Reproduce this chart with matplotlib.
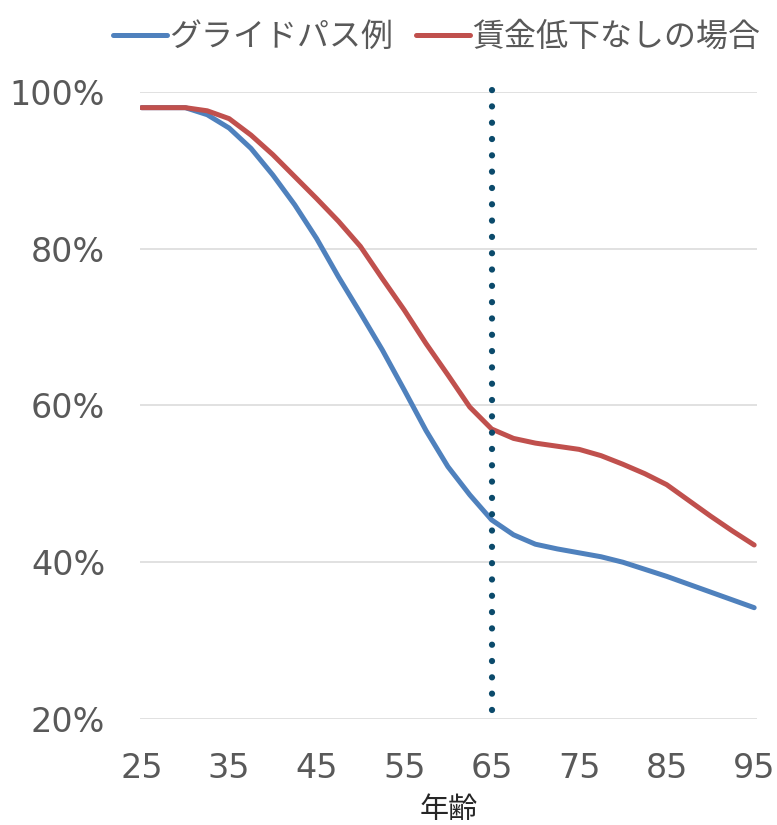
import matplotlib
matplotlib.use("Agg")
import matplotlib.pyplot as plt

ages = [25, 27.5, 30, 32.5, 35, 37.5, 40, 42.5, 45, 47.5, 50, 52.5, 55, 57.5, 60, 62.5,
        65, 67.5, 70, 72.5, 75, 77.5, 80, 82.5, 85, 87.5, 90, 92.5, 95]
glide_path = [98.0, 98.0, 98.0, 97.1, 95.4, 92.8, 89.4, 85.6, 81.3, 76.4, 71.8, 67.1, 62.0, 56.8, 52.2, 48.6,
              45.4, 43.5, 42.3, 41.7, 41.2, 40.7, 40.0, 39.1, 38.2, 37.2, 36.2, 35.2, 34.2]
no_wage_cut = [98.0, 98.0, 98.0, 97.6, 96.6, 94.5, 92.0, 89.2, 86.4, 83.5, 80.3, 76.2, 72.2, 67.9, 63.9, 59.8,
               57.0, 55.8, 55.2, 54.8, 54.4, 53.6, 52.5, 51.3, 49.9, 47.9, 45.9, 44.0, 42.2]
x_ticks = [25, 35, 45, 55, 65, 75, 85, 95]
y_ticks = [20, 40, 60, 80, 100]
retire_age = 65
retire_span = [21.1, 100.3]

labels = ["グライドパス例", "賃金低下なしの場合"]
colors = ["#4F81BD", "#C0504D"]

plt.rcParams["font.family"] = ["Noto Sans CJK JP", "DejaVu Sans"]

fig = plt.figure(figsize=(7.77, 8.25), dpi=100)
ax = fig.add_axes([0.180, 0.1285, 0.794, 0.76])

ax.plot(ages, glide_path, color=colors[0], lw=3.6, solid_capstyle="round", solid_joinstyle="round", label=labels[0], zorder=3)
ax.plot(ages, no_wage_cut, color=colors[1], lw=3.6, solid_capstyle="round", solid_joinstyle="round", label=labels[1], zorder=3)
ax.plot([retire_age, retire_age], retire_span, color="#0B4A6B", lw=4.5,
        linestyle=(0, (0.01, 2.6)), dash_capstyle="round", clip_on=False, zorder=4)

ax.set_xlim(24.8, 95.3)
ax.set_ylim(20, 100)
ax.set_xticks(x_ticks)
ax.set_yticks(y_ticks)
ax.set_yticklabels([f"{v}%" for v in y_ticks])
ax.grid(axis="y", color="#D9D9D9", lw=1.1)
ax.set_axisbelow(True)
for s in ax.spines.values():
    s.set_visible(False)
ax.tick_params(length=0, labelsize=24, labelcolor="#595959")
ax.tick_params(axis="y", pad=25)
ax.tick_params(axis="x", pad=24)
for t in ax.get_xticklabels() + ax.get_yticklabels():
    t.set_fontfamily(["DejaVu Sans Condensed", "DejaVu Sans"])

ax.set_xlabel("年齢", fontsize=21, color="#262626", labelpad=7)

fig.legend(loc="center", bbox_to_anchor=(0.562, 0.955), ncol=2, frameon=False,
           fontsize=23, handlelength=1.7, handletextpad=0.08, columnspacing=0.7,
           labelcolor="#595959")

fig.savefig("out.png", dpi=100)
